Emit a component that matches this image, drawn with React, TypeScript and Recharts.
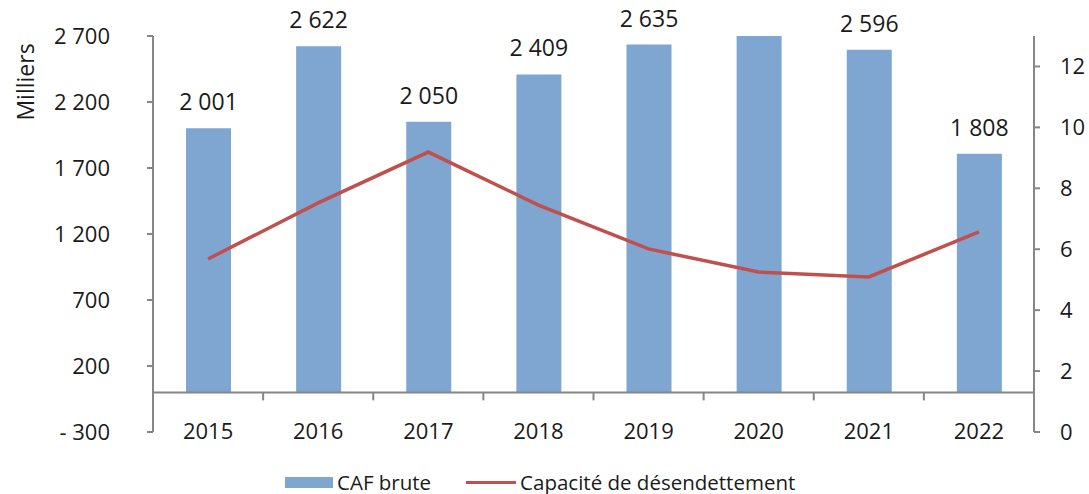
import React from 'react';
import {
  ComposedChart, Bar, Line, XAxis, YAxis, ReferenceLine, LabelList,
} from 'recharts';

const years = ['2015', '2016', '2017', '2018', '2019', '2020', '2021', '2022'];
const cafBrute = [2001, 2622, 2050, 2409, 2635, 2700, 2596, 1808];
const capacite = [5.68, 7.52, 9.19, 7.45, 6.01, 5.25, 5.09, 6.57];
const leftTicks = [-300, 200, 700, 1200, 1700, 2200, 2700];
const rightTicks = [0, 2, 4, 6, 8, 10, 12];

const data = years.map((year, i) => ({ year, caf: cafBrute[i], cap: capacite[i] }));

const W = 1089;
const H = 494;
const LEFT_W = 153;
const RIGHT_W = 55;
const TOP = 36;
const X_H = 62;
const LEFT_MIN = -300;
const LEFT_MAX = 2700;
const PLOT_H = H - TOP - X_H;
const PLOT_W = W - LEFT_W - RIGHT_W;
const BAND = PLOT_W / years.length;
const ZERO_Y = TOP + ((LEFT_MAX - 0) / (LEFT_MAX - LEFT_MIN)) * PLOT_H;

const AXIS = '#868686';
const TEXT = '#1a1a1a';
const BAR = '#7FA6D0';
const LINE = '#C0504D';
const FONT = '"Open Sans", "Liberation Sans", sans-serif';

const fmt = (v: number) => {
  const s = Math.abs(v).toString().replace(/\B(?=(\d{3})+(?!\d))/g, ' ');
  return v < 0 ? `- ${s}` : s;
};

const XTick = (props: any) => {
  const { x, index, payload } = props;
  return (
    <g>
      <text x={x} y={ZERO_Y + 38} textAnchor="middle" dominantBaseline="central"
        fontSize={22} fill={TEXT} fontFamily={FONT}>
        {payload.value}
      </text>
      {index < years.length - 1 && (
        <line x1={x + BAND / 2} x2={x + BAND / 2} y1={ZERO_Y} y2={ZERO_Y + 8} stroke={AXIS} strokeWidth={2} />
      )}
    </g>
  );
};

const BarLabel = (props: any) => {
  const { x, y, width, value } = props;
  if (value >= LEFT_MAX) return null;
  return (
    <text x={x + width / 2} y={y - 27} textAnchor="middle" dominantBaseline="central"
      fontSize={23} fill={TEXT} fontFamily={FONT}>
      {fmt(value)}
    </text>
  );
};

const legendItems = [
  { name: 'CAF brute', type: 'bar' },
  { name: 'Capacité de désendettement', type: 'line' },
];

export default function App() {
  return (
    <div style={{ position: 'absolute', left: 0, top: 0, width: W, height: H, background: '#fff', fontFamily: FONT }}>
      <ComposedChart width={W} height={H} data={data} margin={{ top: TOP, right: 0, left: 0, bottom: 0 }}>
        <XAxis dataKey="year" height={X_H} axisLine={false} tickLine={false} tick={<XTick />} interval={0} />
        <YAxis
          yAxisId="left"
          width={LEFT_W}
          domain={[LEFT_MIN, LEFT_MAX]}
          ticks={leftTicks}
          allowDataOverflow
          tickFormatter={fmt}
          axisLine={{ stroke: AXIS, strokeWidth: 2 }}
          tickLine={{ stroke: AXIS, strokeWidth: 2 }}
          tickSize={6}
          tickMargin={37}
          tick={{ fontSize: 22, fill: TEXT, fontFamily: FONT }}
          label={{
            content: () => (
              <text x={25} y={82} transform="rotate(-90, 25, 82)" textAnchor="middle"
                dominantBaseline="central" fontSize={23} fill={TEXT} fontFamily={FONT}>
                Milliers
              </text>
            ),
          }}
        />
        <YAxis
          yAxisId="right"
          orientation="right"
          width={RIGHT_W}
          domain={[0, 13]}
          ticks={rightTicks}
          axisLine={{ stroke: AXIS, strokeWidth: 2 }}
          tickLine={{ stroke: AXIS, strokeWidth: 2 }}
          tickSize={6}
          tickMargin={20}
          tick={{ fontSize: 22, fill: TEXT, fontFamily: FONT, textAnchor: 'start' }}
        />
        <Bar yAxisId="left" dataKey="caf" fill={BAR} barSize={45} isAnimationActive={false}>
          <LabelList dataKey="caf" content={<BarLabel />} />
        </Bar>
        <ReferenceLine yAxisId="left" y={0} stroke={AXIS} strokeWidth={2} />
        <Line yAxisId="right" dataKey="cap" type="linear" stroke={LINE} strokeWidth={3.5}
          dot={false} activeDot={false} isAnimationActive={false} />
      </ComposedChart>
      <div style={{ position: 'absolute', left: 285, top: 468, display: 'flex', alignItems: 'center', fontSize: 20.5, lineHeight: '28px', color: TEXT, whiteSpace: 'nowrap' }}>
        {legendItems.map((it, i) => (
          <div key={it.name} style={{ display: 'flex', alignItems: 'center', marginLeft: i === 0 ? 0 : 35 }}>
            {it.type === 'bar'
              ? <div style={{ width: 48, height: 11, background: BAR }} />
              : <div style={{ width: 50, height: 3, background: LINE }} />}
            <span style={{ marginLeft: 4 }}>{it.name}</span>
          </div>
        ))}
      </div>
    </div>
  );
}
